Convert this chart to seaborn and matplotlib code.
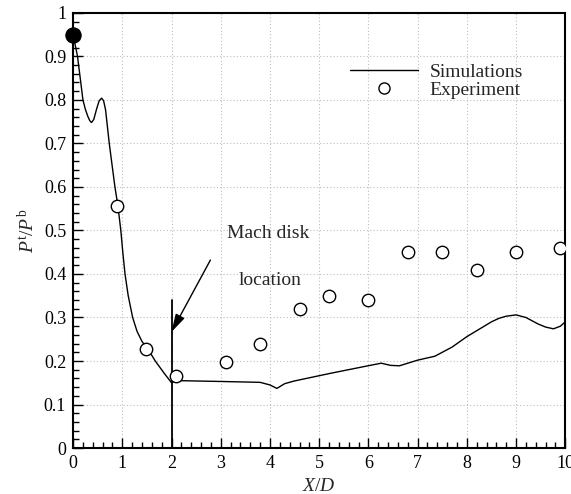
import matplotlib
matplotlib.use("Agg")
import matplotlib.pyplot as plt
import seaborn as sns
import pandas as pd
from matplotlib.ticker import MultipleLocator, FixedLocator
from matplotlib.lines import Line2D

# Simulated total-pressure ratio along the jet axis
sim_x = [0.0, 0.09, 0.20, 0.25, 0.30, 0.34, 0.375, 0.42, 0.48, 0.53, 0.58, 0.62, 0.66,
         0.735, 0.85, 0.91, 0.97, 1.01, 1.055, 1.12, 1.21, 1.30, 1.40, 1.55, 1.67, 1.85,
         2.00, 2.05, 2.10, 3.00, 3.80, 4.00, 4.14, 4.30, 4.49, 5.24, 5.99, 6.26, 6.45,
         6.63, 7.00, 7.35, 7.70, 8.00, 8.25, 8.50, 8.65, 8.80, 9.00, 9.20, 9.45, 9.60,
         9.76, 9.90, 10.0]
sim_y = [0.950, 0.900, 0.800, 0.778, 0.762, 0.752, 0.748, 0.755, 0.780, 0.798, 0.804, 0.798, 0.777,
         0.700, 0.600, 0.557, 0.500, 0.450, 0.400, 0.350, 0.300, 0.268, 0.245, 0.222, 0.200, 0.172,
         0.150, 0.153, 0.155, 0.153, 0.151, 0.145, 0.137, 0.148, 0.154, 0.172, 0.189, 0.195, 0.190,
         0.189, 0.202, 0.211, 0.232, 0.256, 0.273, 0.290, 0.298, 0.303, 0.306, 0.300, 0.285, 0.278,
         0.274, 0.280, 0.290]

# Measured probe data
exp_x = [0.9, 1.48, 2.1, 3.1, 3.8, 4.6, 5.2, 6.0, 6.8, 7.5, 8.2, 9.0, 9.9]
exp_y = [0.557, 0.227, 0.166, 0.198, 0.239, 0.320, 0.349, 0.340, 0.450, 0.450, 0.409, 0.450, 0.460]

# Nozzle exit reference value
inlet_x = [0.0]
inlet_y = [0.95]

x_ticks = [0, 1, 2, 3, 4, 5, 6, 7, 8, 9, 10]
x_labels = ["0", "1", "2", "3", "4", "5", "6", "7", "8", "9", "10"]
y_ticks = [0, 0.1, 0.2, 0.3, 0.4, 0.5, 0.6, 0.7, 0.8, 0.9, 1.0]
y_labels = ["0", "0.1", "0.2", "0.3", "0.4", "0.5", "0.6", "0.7", "0.8", "0.9", "1"]

mach_disk_x = 2.0

sns.set_theme(style="white")
plt.rcParams["font.family"] = ["Liberation Serif", "DejaVu Serif"]
plt.rcParams["mathtext.fontset"] = "custom"
plt.rcParams["mathtext.rm"] = "Liberation Serif"
plt.rcParams["mathtext.it"] = "Liberation Serif:italic"

fig = plt.figure(figsize=(5.71, 4.94), dpi=100)
ax = fig.add_axes([0.128, 0.093, 0.862, 0.881])

sim_df = pd.DataFrame({"x": sim_x, "y": sim_y})
exp_df = pd.DataFrame({"x": exp_x, "y": exp_y})
inl_df = pd.DataFrame({"x": inlet_x, "y": inlet_y})

sns.lineplot(data=sim_df, x="x", y="y", ax=ax, sort=False, estimator=None,
             color="black", linewidth=1.0, zorder=3)
sns.scatterplot(data=exp_df, x="x", y="y", ax=ax, marker="o", s=80,
                facecolor="white", edgecolor="black", linewidth=1.0, zorder=4)
sns.scatterplot(data=inl_df, x="x", y="y", ax=ax, marker="o", s=120,
                color="black", edgecolor="black", zorder=5, clip_on=False)

# Mach disk position marker and annotation
ax.plot([mach_disk_x, mach_disk_x], [0.0, 0.34], color="black", linewidth=1.3, zorder=3)
ax.annotate("", xy=(mach_disk_x, 0.267), xytext=(2.79, 0.432),
            arrowprops=dict(arrowstyle="-|>,head_length=0.9,head_width=0.25",
                            color="black", lw=1.0, shrinkA=0, shrinkB=0))
ax.text(3.97, 0.494, "Mach disk", ha="center", va="center", fontsize=14)
ax.text(4.01, 0.386, "location", ha="center", va="center", fontsize=14)

ax.set_xlim(0, 10)
ax.set_ylim(0, 1)
ax.xaxis.set_major_locator(FixedLocator(x_ticks))
ax.set_xticklabels(x_labels)
ax.yaxis.set_major_locator(FixedLocator(y_ticks))
ax.set_yticklabels(y_labels)
ax.xaxis.set_minor_locator(MultipleLocator(0.2))
ax.yaxis.set_minor_locator(MultipleLocator(0.02))
ax.tick_params(which="both", direction="in", bottom=True, left=True, top=False, right=False,
               labelsize=13, colors="black", pad=5)
ax.tick_params(which="major", length=7, width=1.0)
ax.tick_params(which="minor", length=4.5, width=1.0)

ax.grid(True, which="major", linestyle=(0, (1, 2)), color="#bdbdbd", linewidth=0.8)
ax.set_axisbelow(True)
for side, sp in ax.spines.items():
    sp.set_visible(True)
    sp.set_color("black")
    sp.set_linewidth(1.5)

ax.set_xlabel(r"$X/D$", fontsize=14, labelpad=4)
ax.set_ylabel(r"$P^{\mathrm{t}}/P^{\mathrm{b}}$", fontsize=14, labelpad=4)

handles = [Line2D([], [], color="black", linewidth=1.0),
           Line2D([], [], linestyle="none", marker="o", markersize=8,
                  markerfacecolor="white", markeredgecolor="black")]
ax.legend(handles, ["Simulations", "Experiment"], loc="upper left",
          bbox_to_anchor=(0.534, 0.915), frameon=False, fontsize=14,
          handlelength=3.5, handletextpad=0.6, labelspacing=0.0, borderpad=0.2)

fig.savefig("out.png", dpi=100)
